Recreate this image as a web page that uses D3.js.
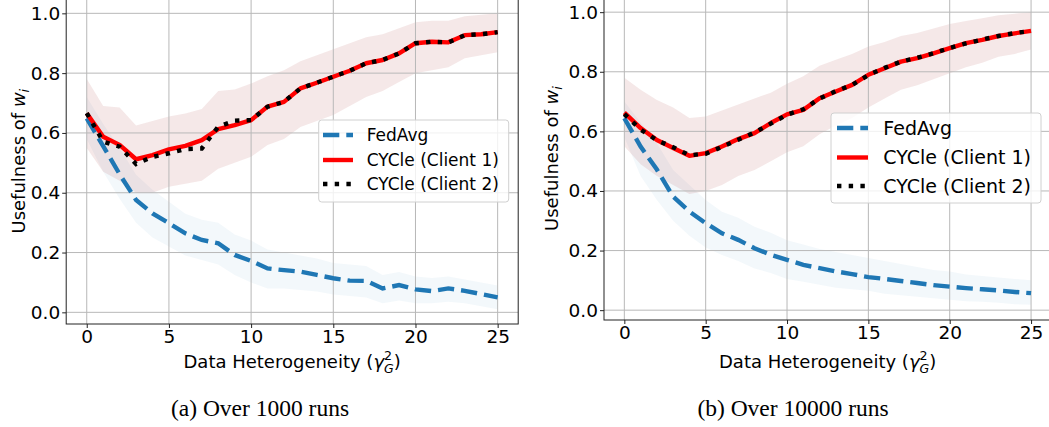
<!DOCTYPE html>
<html>
<head>
<meta charset="utf-8">
<script src="https://cdn.jsdelivr.net/npm/d3@7/dist/d3.min.js"></script>
<style>
  body { margin: 0; background: #fff; }
  svg { display: block; }
  text { font-family: "DejaVu Sans", sans-serif; fill: #000; }
</style>
</head>
<body>
<svg id="chart" width="1049" height="427"></svg>
<script>
// gamma_G^2 values on the x axis
const gammas = [0, 1, 2, 3, 4, 5, 6, 7, 8, 9, 10, 11, 12, 13, 14, 15, 16, 17, 18, 19, 20, 21, 22, 23, 24, 25]
const xTicks = [0, 5, 10, 15, 20, 25]
const yTicks = [0.0, 0.2, 0.4, 0.6, 0.8, 1.0]
const seriesNames = ['FedAvg', 'CYCle (Client 1)', 'CYCle (Client 2)']
const captions = ['(a) Over 1000 runs', '(b) Over 10000 runs']

// (a) 1000 runs
const a_fedavg = [0.649, 0.556, 0.462, 0.376, 0.331, 0.298, 0.264, 0.242, 0.231, 0.192, 0.172, 0.147, 0.141, 0.136, 0.125, 0.114, 0.106, 0.105, 0.080, 0.091, 0.077, 0.071, 0.080, 0.072, 0.061, 0.050]
const a_fedavgHi = [0.72, 0.63, 0.55, 0.46, 0.41, 0.37, 0.33, 0.31, 0.30, 0.26, 0.24, 0.21, 0.20, 0.19, 0.18, 0.165, 0.16, 0.155, 0.125, 0.135, 0.12, 0.115, 0.12, 0.11, 0.10, 0.09]
const a_fedavgLo = [0.58, 0.47, 0.38, 0.30, 0.25, 0.22, 0.19, 0.175, 0.16, 0.125, 0.10, 0.08, 0.08, 0.075, 0.07, 0.06, 0.055, 0.05, 0.03, 0.04, 0.03, 0.03, 0.035, 0.03, 0.02, 0.01]
const a_client1 = [0.666, 0.587, 0.560, 0.512, 0.526, 0.545, 0.557, 0.576, 0.613, 0.626, 0.643, 0.688, 0.704, 0.749, 0.768, 0.788, 0.808, 0.833, 0.844, 0.866, 0.900, 0.905, 0.903, 0.927, 0.930, 0.937]
const a_client2 = [0.666, 0.571, 0.554, 0.496, 0.520, 0.532, 0.546, 0.548, 0.621, 0.641, 0.643, 0.688, 0.704, 0.749, 0.768, 0.788, 0.808, 0.833, 0.844, 0.866, 0.900, 0.905, 0.903, 0.927, 0.930, 0.937]
const a_cycleHi = [0.78, 0.69, 0.685, 0.625, 0.64, 0.655, 0.665, 0.68, 0.74, 0.745, 0.765, 0.79, 0.81, 0.84, 0.86, 0.88, 0.90, 0.92, 0.93, 0.95, 0.97, 0.975, 0.975, 0.99, 0.995, 1.0]
const a_cycleLo = [0.55, 0.47, 0.44, 0.40, 0.40, 0.42, 0.43, 0.44, 0.48, 0.50, 0.52, 0.56, 0.58, 0.62, 0.64, 0.66, 0.69, 0.72, 0.74, 0.77, 0.80, 0.81, 0.82, 0.85, 0.86, 0.87]

// (b) 10000 runs
const b_fedavg = [0.644, 0.549, 0.472, 0.381, 0.331, 0.292, 0.258, 0.236, 0.208, 0.186, 0.169, 0.152, 0.141, 0.130, 0.121, 0.111, 0.105, 0.098, 0.091, 0.084, 0.079, 0.074, 0.070, 0.066, 0.061, 0.057]
const b_fedavgHi = [0.70, 0.63, 0.56, 0.47, 0.42, 0.37, 0.33, 0.31, 0.28, 0.26, 0.235, 0.22, 0.205, 0.195, 0.185, 0.175, 0.165, 0.155, 0.145, 0.135, 0.13, 0.12, 0.115, 0.11, 0.105, 0.10]
const b_fedavgLo = [0.58, 0.45, 0.37, 0.30, 0.25, 0.21, 0.185, 0.165, 0.14, 0.125, 0.105, 0.095, 0.085, 0.075, 0.07, 0.065, 0.055, 0.05, 0.045, 0.04, 0.035, 0.03, 0.028, 0.025, 0.02, 0.018]
const b_client1 = [0.663, 0.611, 0.571, 0.544, 0.518, 0.527, 0.549, 0.574, 0.594, 0.628, 0.657, 0.672, 0.711, 0.734, 0.756, 0.790, 0.812, 0.834, 0.846, 0.862, 0.879, 0.896, 0.907, 0.920, 0.929, 0.937]
const b_client2 = [0.658, 0.606, 0.570, 0.547, 0.520, 0.525, 0.548, 0.572, 0.596, 0.626, 0.656, 0.674, 0.710, 0.735, 0.756, 0.789, 0.813, 0.834, 0.847, 0.862, 0.880, 0.895, 0.908, 0.920, 0.930, 0.937]
const b_cycleHi = [0.78, 0.74, 0.705, 0.68, 0.645, 0.65, 0.67, 0.69, 0.71, 0.73, 0.76, 0.785, 0.82, 0.84, 0.86, 0.885, 0.90, 0.92, 0.93, 0.945, 0.96, 0.97, 0.98, 0.99, 0.995, 1.0]
const b_cycleLo = [0.55, 0.49, 0.45, 0.42, 0.39, 0.40, 0.42, 0.45, 0.47, 0.50, 0.53, 0.55, 0.59, 0.62, 0.645, 0.68, 0.71, 0.74, 0.755, 0.775, 0.795, 0.815, 0.83, 0.85, 0.86, 0.875]

const BLUE = '#1f77b4'
const RED = '#ff0000'
const LW = 4.4

const svg = d3.select('#chart')
svg.append('rect').attr('width', 1049).attr('height', 427).attr('fill', '#fff')

const drawPanel = (opt) => {
  const g = svg.append('g')
  const x = d3.scaleLinear().domain([-1.25, 26.25]).range([opt.left, opt.right])
  const y = d3.scaleLinear().domain([opt.yMin, 1.05]).range([opt.bottom, opt.bottom - (1.05 - opt.yMin) * opt.yPx])
  const top = y(1.05)

  const clipId = 'clip' + opt.id
  svg.append('clipPath').attr('id', clipId).append('rect')
      .attr('x', opt.left).attr('y', top)
      .attr('width', opt.right - opt.left).attr('height', opt.bottom - top)

  const plot = g.append('g').attr('clip-path', `url(#${clipId})`)

  const band = (lo, hi) => d3.area()
      .x((d, i) => x(gammas[i]))
      .y0((d, i) => y(lo[i]))
      .y1((d, i) => y(hi[i]))(gammas)

  plot.append('path').attr('d', band(opt.fedavgLo, opt.fedavgHi))
      .attr('fill', BLUE).attr('fill-opacity', 0.055)
  plot.append('path').attr('d', band(opt.cycleLo, opt.cycleHi))
      .attr('fill', '#a83030').attr('fill-opacity', 0.11)

  // grid
  plot.selectAll('.gx').data(xTicks).enter().append('line')
      .attr('x1', d => x(d)).attr('x2', d => x(d))
      .attr('y1', top).attr('y2', opt.bottom)
      .attr('stroke', '#b8b8b8').attr('stroke-width', 1)
  plot.selectAll('.gy').data(yTicks).enter().append('line')
      .attr('x1', opt.left).attr('x2', opt.right)
      .attr('y1', d => y(d)).attr('y2', d => y(d))
      .attr('stroke', '#b8b8b8').attr('stroke-width', 1)

  const line = (vals) => d3.line()
      .x((d, i) => x(gammas[i]))
      .y((d, i) => y(vals[i]))(gammas)

  plot.append('path').attr('d', line(opt.fedavg))
      .attr('fill', 'none').attr('stroke', BLUE).attr('stroke-width', LW)
      .attr('stroke-dasharray', '16.3,7')
  plot.append('path').attr('d', line(opt.client1))
      .attr('fill', 'none').attr('stroke', RED).attr('stroke-width', LW)
      .attr('stroke-linejoin', 'round')
  plot.append('path').attr('d', line(opt.client2))
      .attr('fill', 'none').attr('stroke', '#000').attr('stroke-width', LW)
      .attr('stroke-dasharray', '4.4,7.3')

  // axes
  const xAxis = g.append('g').attr('transform', `translate(0,${opt.bottom})`)
      .call(d3.axisBottom(x).tickValues(xTicks).tickSize(4).tickPadding(2).tickSizeOuter(0))
  const yAxis = g.append('g').attr('transform', `translate(${opt.left},0)`)
      .call(d3.axisLeft(y).tickValues(yTicks).tickFormat(d3.format('.1f')).tickSize(4).tickPadding(2).tickSizeOuter(0))
  for (const ax of [xAxis, yAxis]) {
    ax.select('.domain').remove()
    ax.selectAll('line').attr('stroke', '#222')
    ax.selectAll('text').style('font-size', '18.5px').attr('fill', '#111')
  }

  g.append('rect')
      .attr('x', opt.left).attr('y', top)
      .attr('width', opt.right - opt.left).attr('height', opt.bottom - top)
      .attr('fill', 'none').attr('stroke', '#222').attr('stroke-width', 1)

  // x label with gamma_G^2
  const xl = g.append('text')
      .attr('x', (opt.left + opt.right) / 2).attr('y', opt.xLabelY)
      .attr('text-anchor', 'middle').style('font-size', '18px').attr('fill', '#111')
  xl.append('tspan').text('Data Heterogeneity (')
  xl.append('tspan').text('γ').style('font-style', 'italic')
  xl.append('tspan').text('2').style('font-size', '12.6px').attr('dy', -8)
  xl.append('tspan').text('G').style('font-size', '12.6px').style('font-style', 'italic')
      .attr('dx', -8).attr('dy', 13)
  xl.append('tspan').text(')').attr('dy', -5)

  // y label
  const yl = g.append('text')
      .attr('transform', `translate(${opt.yLabelX},${(opt.bottom + top) / 2}) rotate(-90)`)
      .attr('text-anchor', 'middle').style('font-size', '18px').attr('fill', '#111')
  yl.append('tspan').text('Usefulness of ')
  yl.append('tspan').text('w').style('font-style', 'italic')
  yl.append('tspan').text('i').style('font-style', 'italic').style('font-size', '12.6px').attr('dy', 4)

  // legend
  const L = opt.legend
  const lg = g.append('g')
  lg.append('rect').attr('x', L.x).attr('y', L.y).attr('width', L.w).attr('height', L.h)
      .attr('rx', 3).attr('fill', '#fff').attr('fill-opacity', 0.8)
      .attr('stroke', '#d0d0d0').attr('stroke-width', 1)
  const styles = [
    { stroke: BLUE, dash: '16.3,7' },
    { stroke: RED, dash: null },
    { stroke: '#000', dash: '4.4,7.3' }
  ]
  seriesNames.forEach((name, i) => {
    const cy = L.rows[i]
    lg.append('line').attr('x1', L.hx0).attr('x2', L.hx1).attr('y1', cy).attr('y2', cy)
        .attr('stroke', styles[i].stroke).attr('stroke-width', LW)
        .attr('stroke-dasharray', styles[i].dash)
    lg.append('text').attr('x', L.tx).attr('y', cy).attr('dy', '0.36em')
        .style('font-size', L.font + 'px').attr('fill', '#111').text(name)
  })

  svg.append('text').attr('x', opt.captionX).attr('y', 416).attr('text-anchor', 'middle')
      .style('font-family', '"Liberation Serif", serif').style('font-size', '23.5px')
      .text(opt.caption)
}

drawPanel({
  id: 'a', left: 66.2, right: 518.2, bottom: 324, yMin: -0.039, yPx: 299,
  fedavg: a_fedavg, fedavgLo: a_fedavgLo, fedavgHi: a_fedavgHi,
  client1: a_client1, client2: a_client2, cycleLo: a_cycleLo, cycleHi: a_cycleHi,
  xLabelY: 368, yLabelX: 25,
  legend: { x: 318.7, y: 120, w: 190, h: 82, rows: [135, 160, 184], hx0: 323, hx1: 353, tx: 366.7, font: 17 },
  captionX: 260, caption: captions[0]
})

drawPanel({
  id: 'b', left: 604, right: 1051.4, bottom: 320, yMin: -0.033, yPx: 298,
  fedavg: b_fedavg, fedavgLo: b_fedavgLo, fedavgHi: b_fedavgHi,
  client1: b_client1, client2: b_client2, cycleLo: b_cycleLo, cycleHi: b_cycleHi,
  xLabelY: 368, yLabelX: 558,
  legend: { x: 831, y: 113, w: 210, h: 90, rows: [128, 157.5, 186], hx0: 837, hx1: 868, tx: 883.3, font: 19 },
  captionX: 793, caption: captions[1]
})
</script>
</body>
</html>
